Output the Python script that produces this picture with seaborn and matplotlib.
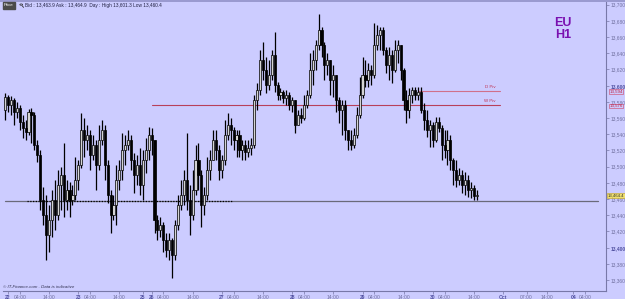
import matplotlib
matplotlib.use("Agg")
import matplotlib.pyplot as plt
from matplotlib.patches import Circle
from matplotlib.lines import Line2D
import seaborn as sns
import numpy as np
import pandas as pd

# ---------------- data (EUR/USD-like hourly candles) -------------
opens = [13570,
 13586,13576,13582,13568,13572,13555,13548,13543,13568,13564,
 13527,13514,13459,13440,13416,13434,13459,13440,13477,13490,
 13459,13471,13459,13465,13484,13502,13545,13533,13539,13514,
 13527,13502,13533,13545,13502,13465,13440,13453,13484,13496,
 13521,13527,13533,13508,13490,13502,13477,13508,13521,13539,
 13533,13434,13422,13428,13410,13397,13410,13391,13428,13453,
 13465,13484,13459,13440,13471,13508,13490,13453,13465,13496,
 13508,13533,13521,13496,13508,13539,13551,13545,13533,13539,
 13521,13527,13518,13523,13527,13582,13595,13632,13619,13601,
 13613,13638,13601,13588,13592,13585,13588,13576,13582,13551,
 13564,13560,13576,13588,13619,13632,13650,13669,13650,13626,
 13632,13607,13613,13582,13570,13576,13545,13533,13527,13539,
 13564,13588,13613,13607,13619,13613,13650,13663,13669,13644,
 13626,13638,13619,13644,13650,13619,13582,13570,13588,13595,
 13588,13592,13570,13558,13545,13551,13533,13555,13548,13527,
 13521,13533,13508,13496,13484,13490,13477,13484,13471,13474,
 13464]
closes = [
 13586,13576,13582,13568,13572,13555,13548,13543,13568,13564,
 13527,13514,13459,13440,13416,13434,13459,13440,13477,13490,
 13459,13471,13459,13465,13484,13502,13545,13533,13539,13514,
 13527,13502,13533,13545,13502,13465,13440,13453,13484,13496,
 13521,13527,13533,13508,13490,13502,13477,13508,13521,13539,
 13533,13434,13422,13428,13410,13397,13410,13391,13428,13453,
 13465,13484,13459,13440,13471,13508,13490,13453,13465,13496,
 13508,13533,13521,13496,13508,13539,13551,13545,13533,13539,
 13521,13527,13518,13523,13527,13582,13595,13632,13619,13601,
 13613,13638,13601,13588,13592,13585,13588,13576,13582,13551,
 13564,13560,13576,13588,13619,13632,13650,13669,13650,13626,
 13632,13607,13613,13582,13570,13576,13545,13533,13527,13539,
 13564,13588,13613,13607,13619,13613,13650,13663,13669,13644,
 13626,13638,13619,13644,13650,13619,13582,13570,13588,13595,
 13588,13592,13570,13558,13545,13551,13533,13555,13548,13527,
 13521,13533,13508,13496,13484,13490,13477,13484,13471,13474,
 13464,13464.4]
highs = [
 13591,13588,13587,13585,13580,13576,13564,13558,13571,13572,
 13568,13533,13521,13475,13465,13453,13471,13484,13496,13500,
 13529,13484,13481,13477,13512,13508,13566,13560,13551,13545,
 13539,13533,13551,13558,13551,13508,13471,13465,13502,13508,
 13542,13539,13545,13539,13517,13514,13523,13521,13535,13549,
 13548,13533,13440,13438,13432,13418,13418,13412,13434,13465,
 13484,13496,13542,13477,13496,13527,13529,13496,13475,13512,
 13521,13545,13545,13527,13514,13558,13566,13560,13549,13545,
 13545,13533,13533,13533,13535,13588,13603,13644,13654,13635,
 13632,13644,13666,13605,13597,13595,13595,13592,13586,13582,
 13570,13572,13588,13595,13640,13644,13656,13689,13672,13654,
 13640,13632,13626,13613,13586,13582,13582,13545,13545,13548,
 13574,13611,13635,13632,13628,13626,13677,13675,13672,13672,
 13648,13648,13644,13656,13656,13650,13622,13595,13597,13598,
 13598,13598,13598,13579,13570,13558,13555,13561,13561,13551,
 13545,13545,13539,13511,13508,13498,13496,13493,13490,13481,
 13477,13471]
lows = [
 13558,13568,13564,13551,13560,13545,13535,13533,13539,13529,
 13521,13506,13447,13428,13385,13395,13413,13422,13434,13447,
 13438,13447,13438,13453,13459,13471,13498,13512,13521,13496,
 13508,13471,13496,13527,13484,13455,13418,13434,13428,13471,
 13484,13502,13521,13496,13467,13477,13465,13459,13492,13508,
 13514,13418,13410,13413,13395,13388,13385,13363,13385,13422,
 13447,13453,13447,13416,13434,13465,13471,13425,13440,13459,
 13484,13508,13508,13484,13486,13502,13533,13527,13521,13512,
 13512,13508,13508,13512,13514,13523,13570,13588,13607,13591,
 13595,13607,13592,13582,13582,13579,13576,13570,13568,13542,
 13551,13554,13558,13572,13585,13601,13619,13644,13635,13607,
 13613,13588,13586,13568,13554,13539,13533,13521,13521,13523,
 13535,13560,13585,13598,13598,13601,13610,13644,13644,13638,
 13616,13607,13603,13617,13628,13607,13570,13554,13560,13579,
 13582,13582,13566,13545,13537,13524,13524,13530,13543,13508,
 13511,13502,13496,13477,13475,13477,13467,13465,13463,13461,
 13459,13459]

xtick_pos = [0, 4, 14, 24, 28, 38, 46, 49, 53, 63, 73, 77, 87, 97, 101, 111,
             121, 125, 135, 145, 149, 159, 169, 177, 184, 193, 197]
xtick_labels = ["22", "04:00", "14:00", "23", "04:00", "14:00", "25", "26", "04:00",
                "14:00", "27", "04:00", "14:00", "28", "04:00", "14:00", "29",
                "04:00", "14:00", "30", "04:00", "14:00", "Oct", "07:00", "14:00",
                "04", "04:00"]
bold_xticks = {"22", "23", "25", "26", "27", "28", "29", "30", "Oct", "04"}

ytick_vals = [13360, 13380, 13400, 13420, 13440, 13460, 13480, 13500, 13520,
              13540, 13560, 13580, 13600, 13620, 13640, 13660, 13680, 13700]

low_line = 13458
weekly_pivot = 13576
daily_pivot = 13594
last_price = 13464.4

header = "Bid : 13,463.9 Ask : 13,464.9  Day : High 13,601.3 Low 13,460.4"

# ---------------- figure ----------------
sns.set_theme(style="white")
plt.rcParams["font.family"] = ["Liberation Sans", "DejaVu Sans"]
BG = "#ccccff"
AXC = "#7878a8"

fig = plt.figure(figsize=(6.25, 2.99), dpi=100, facecolor=BG)
ax = fig.add_axes([3 / 625, 8 / 299, 603 / 625, 289 / 299])
ax.set_facecolor(BG)

df = pd.DataFrame({"open": opens, "high": highs, "low": lows, "close": closes})
df["idx"] = np.arange(len(df)) - 1
up = df["close"] >= df["open"]

# wicks
ax.vlines(df["idx"], df["low"], df["high"], color="black", lw=0.9, zorder=3)
# bodies
body_bottom = np.minimum(df["open"], df["close"])
body_h = np.maximum(np.abs(df["close"] - df["open"]), 0.8)
ax.bar(df.loc[up, "idx"], body_h[up], bottom=body_bottom[up], width=0.72,
       color="#d4d4d4", edgecolor="black", linewidth=0.5, zorder=4)
ax.bar(df.loc[~up, "idx"], body_h[~up], bottom=body_bottom[~up], width=0.72,
       color="black", edgecolor="black", linewidth=0.5, zorder=4)

# horizontal lines
lines = pd.DataFrame({"x": [-1.0, 201.4], "y": [low_line, low_line]})
sns.lineplot(data=lines, x="x", y="y", ax=ax, color="#6a6a7a", lw=0.9, zorder=2)
ax.plot([6.5, 76.5], [low_line, low_line], color="black", lw=0.9,
        linestyle=(0, (1, 1.2)), zorder=2)
wp = pd.DataFrame({"x": [49.1, 167.9], "y": [weekly_pivot, weekly_pivot]})
sns.lineplot(data=wp, x="x", y="y", ax=ax, color="#b8405a", lw=0.8, zorder=2)
dp = pd.DataFrame({"x": [140.0, 167.9], "y": [daily_pivot, daily_pivot]})
sns.lineplot(data=dp, x="x", y="y", ax=ax, color="#d0708a", lw=0.8, zorder=2)
ax.text(166.5, daily_pivot + 2, "D Piv", fontsize=3.2, color="#c03050",
        ha="right", va="bottom")
ax.text(166.5, weekly_pivot + 2, "W Piv", fontsize=3.2, color="#c03050",
        ha="right", va="bottom")

ax.set_xlim(-1.71, 204.1)
ax.set_ylim(13346.5, 13703.3)
ax.set_xlabel("")
ax.set_ylabel("")

# axes / ticks
for s in ["left", "top"]:
    ax.spines[s].set_visible(False)
ax.spines["right"].set_color(AXC)
ax.spines["bottom"].set_color(AXC)
ax.spines["right"].set_linewidth(0.8)
ax.spines["bottom"].set_linewidth(0.8)

ax.yaxis.tick_right()
ax.set_yticks(ytick_vals)
ax.set_yticklabels([f"{v:,}" for v in ytick_vals])
ax.tick_params(axis="y", right=True, length=2.5, width=0.5, color=AXC,
               labelsize=3.5, labelcolor="#7070a0", pad=0.8)
for lab, v in zip(ax.get_yticklabels(), ytick_vals):
    if v in (13400, 13600):
        lab.set_fontweight("bold")
        lab.set_color("#5050a0")

ax.set_xticks(xtick_pos)
ax.set_xticklabels(xtick_labels)
ax.tick_params(axis="x", bottom=True, length=2, width=0.5, color=AXC,
               labelsize=3.6, labelcolor="#7070a0", pad=0.8)
for lab in ax.get_xticklabels():
    if lab.get_text() in bold_xticks:
        lab.set_fontweight("bold")
        lab.set_color("#5050a0")

# price tags on the right axis
trans = ax.get_yaxis_transform()
ax.text(1.006, daily_pivot - 1.5, "13,594", transform=trans, fontsize=3.2,
        color="#c02040", va="center", ha="left",
        bbox=dict(boxstyle="square,pad=0.08", fc=BG, ec="#d04060", lw=0.4))
ax.text(1.006, weekly_pivot - 1.0, "13,576", transform=trans, fontsize=3.2,
        color="#c02040", va="center", ha="left",
        bbox=dict(boxstyle="square,pad=0.08", fc=BG, ec="#d04060", lw=0.4))
ax.text(1.003, last_price, "13,464.4", transform=trans, fontsize=3.1,
        color="#303030", va="center", ha="left",
        bbox=dict(boxstyle="square,pad=0.08", fc="#f0e070", ec="#c0a020", lw=0.4))

# header
fig.text(4 / 625, 1 - 5.5 / 299, "Price", fontsize=3.2, color="white", va="center",
         ha="left", bbox=dict(boxstyle="square,pad=0.25", fc="#4a4a4a", ec="#4a4a4a"))
# small magnifier icon drawn as shapes
fig.patches.append(Circle((21.2 / 625, 1 - 4.6 / 299), 1.4 / 625,
                          transform=fig.transFigure, fc="none", ec="#303030", lw=0.5))
fig.lines.append(Line2D([22.2 / 625, 23.6 / 625], [1 - 5.8 / 299, 1 - 7.4 / 299],
                        transform=fig.transFigure, color="#303030", lw=0.6))
fig.text(25 / 625, 1 - 5.5 / 299, header, fontsize=3.4, color="#202040", va="center",
         ha="left")
fig.patches.append(plt.Rectangle((0, 1 - 1.5 / 299), 1, 1.5 / 299,
                                 transform=fig.transFigure, fc="#9a9ad0", ec="none"))

# symbol
fig.text(563 / 625, 1 - 23 / 299, "EU", fontsize=9, fontweight="bold", color="#7a10b0",
         ha="center", va="center")
fig.text(563 / 625, 1 - 35 / 299, "H1", fontsize=9, fontweight="bold", color="#7a10b0",
         ha="center", va="center")

# footer
fig.text(3 / 625, 1 - 287 / 299, "\u00a9 IT-Finance.com . Data is indicative",
         fontsize=3.2, style="italic", color="#303050", va="center", ha="left")

fig.savefig("out.png", dpi=100, facecolor=BG)
